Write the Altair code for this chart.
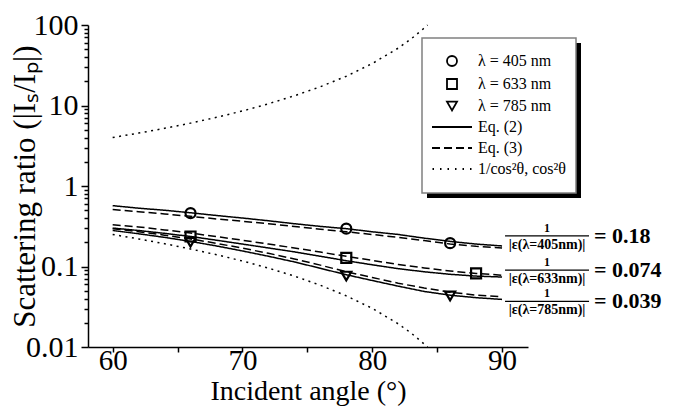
import altair as alt
import pandas as pd

# ---------------- data ----------------
angles = [60, 62, 64, 66, 68, 70, 72, 74, 76, 78, 80, 82, 84, 86, 88, 90]

eq2_405 = [0.57, 0.53, 0.50, 0.465, 0.43, 0.40, 0.37, 0.34, 0.315, 0.295, 0.27, 0.25, 0.225, 0.205, 0.19, 0.18]
eq3_405 = [0.51, 0.48, 0.45, 0.42, 0.39, 0.365, 0.34, 0.315, 0.29, 0.27, 0.25, 0.23, 0.21, 0.19, 0.178, 0.17]
eq2_633 = [0.30, 0.28, 0.258, 0.236, 0.212, 0.19, 0.17, 0.152, 0.134, 0.118, 0.105, 0.094, 0.086, 0.08, 0.076, 0.074]
eq3_633 = [0.33, 0.31, 0.285, 0.26, 0.235, 0.212, 0.19, 0.17, 0.151, 0.134, 0.119, 0.106, 0.096, 0.088, 0.082, 0.078]
eq2_785 = [0.28, 0.255, 0.23, 0.205, 0.18, 0.156, 0.134, 0.114, 0.095, 0.079, 0.067, 0.057, 0.049, 0.044, 0.041, 0.039]
eq3_785 = [0.295, 0.27, 0.245, 0.22, 0.194, 0.169, 0.146, 0.124, 0.104, 0.086, 0.073, 0.062, 0.054, 0.048, 0.044, 0.042]

cos_angles = [60, 62, 64, 66, 68, 70, 72, 74, 76, 78, 80, 82, 83, 84, 84.26]
inv_cos2 = [4.0, 4.54, 5.2, 6.04, 7.13, 8.55, 10.5, 13.2, 17.1, 23.1, 33.2, 51.6, 67.3, 91.4, 100]
cos2 = [0.25, 0.22, 0.192, 0.165, 0.14, 0.117, 0.0955, 0.076, 0.0585, 0.0432, 0.0302, 0.0194, 0.0149, 0.0109, 0.01]

mk_angles_405 = [66, 78, 86]
mk_405 = [0.46, 0.295, 0.195]
mk_angles_633 = [66, 78, 88]
mk_633 = [0.236, 0.128, 0.082]
mk_angles_785 = [66, 78, 86]
mk_785 = [0.20, 0.076, 0.043]

legend_entries = ["λ = 405 nm", "λ = 633 nm", "λ = 785 nm", "Eq. (2)", "Eq. (3)", "1/cos²θ, cos²θ"]
eq_styles = ["Eq. (2)", "Eq. (3)", "1/cos²θ, cos²θ"]

limit_values = [0.18, 0.074, 0.039]
limit_texts = ["= 0.18", "= 0.074", "= 0.039"]
eps_texts = ["|ε(λ=405nm)|", "|ε(λ=633nm)|", "|ε(λ=785nm)|"]

# ---------------- layout / style ----------------
W, H = 440, 322
PAD_L, PAD_T = 80, 17
XMIN, XMAX = 58.1, 92.0
FONT = "Liberation Serif"
label_dy = [-10, -7, 2]
BOX_X, BOX_Y, BOX_W, BOX_H = 334, 13, 154, 155

rows = []
def add(curve, style, xs, ys):
    for a, v in zip(xs, ys):
        rows.append({"angle": a, "value": v, "curve": curve, "style": style})

add("e2_405", "Eq. (2)", angles, eq2_405)
add("e3_405", "Eq. (3)", angles, eq3_405)
add("e2_633", "Eq. (2)", angles, eq2_633)
add("e3_633", "Eq. (3)", angles, eq3_633)
add("e2_785", "Eq. (2)", angles, eq2_785)
add("e3_785", "Eq. (3)", angles, eq3_785)
add("invcos", "1/cos²θ, cos²θ", cos_angles, inv_cos2)
add("cos", "1/cos²θ, cos²θ", cos_angles, cos2)
lines_df = pd.DataFrame(rows)

mrows = []
for ent, xs, ys in [(legend_entries[0], mk_angles_405, mk_405),
                    (legend_entries[1], mk_angles_633, mk_633),
                    (legend_entries[2], mk_angles_785, mk_785)]:
    for a, v in zip(xs, ys):
        mrows.append({"angle": a, "value": v, "entry": ent})
markers_df = pd.DataFrame(mrows)

decades = [0.01, 0.1, 1, 10, 100]
yvals = []
for d in decades[:-1]:
    for k in range(1, 10):
        yvals.append(round(k * d, 6))
yvals.append(100)

is_decade = "abs(log(datum.value)/LN10 - round(log(datum.value)/LN10)) < 0.001"

x_enc = alt.X("angle:Q",
              scale=alt.Scale(domain=[XMIN, XMAX], nice=False, zero=False),
              axis=alt.Axis(title="Incident angle (°)", values=[60, 65, 70, 75, 80, 85, 90],
                            labelExpr="datum.value % 10 == 0 ? datum.label : ''",
                            grid=False, tickSize=5, labelPadding=-6, labelFontSize=29,
                            titleFontSize=28, titleY=44, titleBaseline="middle"))
y_enc = alt.Y("value:Q",
              scale=alt.Scale(type="log", domain=[0.01, 100], nice=False),
              axis=alt.Axis(title="Scattering ratio (|Iₛ/Iₚ|)", values=yvals,
                            labelExpr=is_decade + " ? format(datum.value, '~g') : ''",
                            tickSize={"condition": {"test": is_decade, "value": 7}, "value": 4},
                            grid=False, labelPadding=3, labelFontSize=30,
                            titleFontSize=31, titleX=-63, titleY=H / 2, titleAngle=-90,
                            titleAlign="center", titleBaseline="middle"))

lines = alt.Chart(lines_df).mark_line(color="black", strokeWidth=1.5).encode(
    x=x_enc, y=y_enc,
    strokeDash=alt.StrokeDash("style:N",
                              scale=alt.Scale(domain=eq_styles, range=[[1, 0], [8, 4], [2, 4.5]]),
                              legend=None),
    detail="curve:N",
)

solid_path = "M-4,0H4"
dash_path = "M-4,0H-2.4M-1.6,0H0M0.8,0H2.4M3.2,0H4"
dot_path = "M-3.9,0H-3.6M-2.4,0H-2.1M-0.9,0H-0.6M0.6,0H0.9M2.1,0H2.4M3.6,0H3.9"

markers = alt.Chart(markers_df).mark_point(color="black", filled=False, size=100,
                                           strokeWidth=2.2, opacity=1).encode(
    x=x_enc, y=y_enc,
    shape=alt.Shape("entry:N",
                    scale=alt.Scale(domain=legend_entries,
                                    range=["circle", "square", "triangle-down",
                                           solid_path, dash_path, dot_path]),
                    legend=alt.Legend(title=None, orient="none",
                                      legendX=BOX_X, legendY=BOX_Y + 3,
                                      fillColor="transparent", strokeColor="transparent",
                                      padding=12, rowPadding=5, symbolOffset=10,
                                      labelOffset=18, labelFont=FONT, labelFontSize=16,
                                      labelColor="black", symbolStrokeWidth=1.8,
                                      symbolStrokeColor="black")),
)

# legend frame with drop shadow (decoration)
frame_df = pd.DataFrame({"k": [0]})
shadow = alt.Chart(frame_df).mark_rect(color="black").encode(
    x=alt.value(BOX_X + 5), x2=alt.value(BOX_X + BOX_W + 5),
    y=alt.value(BOX_Y + 5), y2=alt.value(BOX_Y + BOX_H + 5))
frame = alt.Chart(frame_df).mark_rect(fill="white", stroke="#808080", strokeWidth=1.5).encode(
    x=alt.value(BOX_X), x2=alt.value(BOX_X + BOX_W),
    y=alt.value(BOX_Y), y2=alt.value(BOX_Y + BOX_H))

px90 = (90 - XMIN) / (XMAX - XMIN) * W
ann_layers = []
for i in range(3):
    df = pd.DataFrame({"angle": [90], "value": [limit_values[i]],
                       "eps": [eps_texts[i]], "lim": [limit_texts[i]], "one": ["1"]})
    base = alt.Chart(df)
    dy = label_dy[i]
    ann_layers.append(base.mark_rule(color="black", strokeWidth=1.2, xOffset=3, yOffset=dy)
                      .encode(x=x_enc, x2=alt.value(px90 + 87), y=y_enc))
    ann_layers.append(base.mark_text(font=FONT, fontWeight="bold", fontSize=12, dx=45, dy=dy - 8,
                                     color="black")
                      .encode(x=x_enc, y=y_enc, text="one:N"))
    ann_layers.append(base.mark_text(font=FONT, fontWeight="bold", fontSize=14, dx=45, dy=dy + 9,
                                     color="black")
                      .encode(x=x_enc, y=y_enc, text="eps:N"))
    ann_layers.append(base.mark_text(font=FONT, fontWeight="bold", fontSize=22, dx=92, dy=dy,
                                     align="left", color="black")
                      .encode(x=x_enc, y=y_enc, text="lim:N"))

chart = alt.layer(lines, shadow, frame, markers, *ann_layers).properties(
    width=W, height=H,
    padding={"left": PAD_L, "top": PAD_T, "right": 659 - PAD_L - W, "bottom": 398 - PAD_T - H},
    autosize=alt.AutoSizeParams(type="none"),
    background="white",
).configure_view(strokeWidth=0).configure_axis(
    labelFont=FONT, titleFont=FONT, titleFontWeight="normal", labelColor="black",
    titleColor="black", domainColor="black", tickColor="black", domainWidth=1.5,
    tickWidth=1.5,
)

chart.save("out.html", embed_options={"renderer": "svg", "actions": False})
